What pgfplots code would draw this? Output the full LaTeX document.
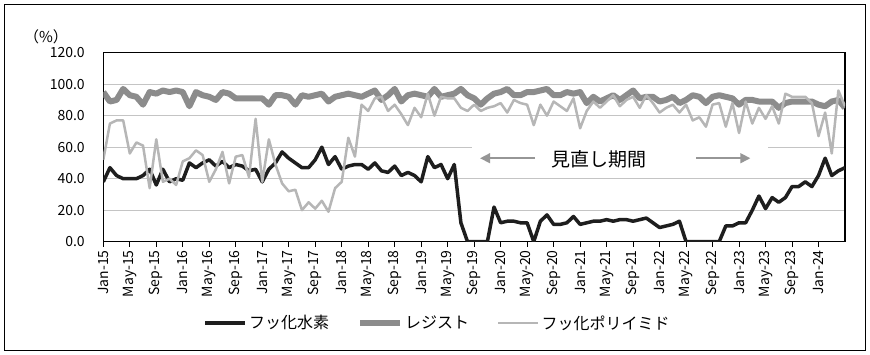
\documentclass[border=0pt]{standalone}
\usepackage{pgfplots}
\pgfplotsset{compat=1.18}
\usepackage{pgfplotstable}
\usepackage{fontspec}
\setmainfont{Noto Sans CJK JP}
\usetikzlibrary{arrows.meta}
\definecolor{cblack}{RGB}{30,30,30}
\definecolor{cgray}{RGB}{140,140,140}
\definecolor{clight}{RGB}{182,182,182}
\definecolor{cgrid}{RGB}{196,196,196}
\definecolor{carrow}{RGB}{150,150,150}

\pgfplotstableread{
i hf resist pi
0 38 95 52
1 47 89 75
2 42 90 77
3 40 97 77
4 40 93 56
5 40 92 63
6 42 87 61
7 46 95 34
8 36 94 65
9 46 96 38
10 38 95 40
11 40 96 36
12 39 95 51
13 50 86 53
14 47 95 58
15 50 93 55
16 52 92 38
17 48 90 46
18 51 95 57
19 47 94 37
20 49 91 54
21 48 91 55
22 45 91 41
23 46 91 78
24 38 91 38
25 46 87 65
26 50 93 49
27 57 93 37
28 53 92 32
29 50 87 33
30 47 93 20
31 47 92 25
32 52 93 21
33 60 94 26
34 49 89 19
35 54 92 34
36 46 93 38
37 48 94 66
38 49 93 54
39 49 92 87
40 46 94 83
41 50 96 91
42 45 90 92
43 44 93 83
44 48 97 87
45 42 89 81
46 44 93 74
47 42 94 85
48 38 93 79
49 54 92 94
50 47 97 80
51 49 92 92
52 40 93 91
53 49 94 91
54 12 97 85
55 0 93 83
56 0 91 87
57 0 87 83
58 0 91 85
59 22 94 86
60 12 95 88
61 13 97 82
62 13 93 90
63 12 93 88
64 12 95 87
65 0 95 74
66 13 96 87
67 17 97 80
68 11 93 89
69 11 93 86
70 12 95 83
71 16 94 91
72 11 95 72
73 12 88 83
74 13 92 89
75 13 89 85
76 14 91 89
77 13 93 93
78 14 90 86
79 14 93 90
80 13 96 92
81 14 91 85
82 15 92 93
83 12 92 88
84 9 89 82
85 10 90 85
86 11 92 87
87 13 88 82
88 0 90 87
89 0 93 77
90 0 92 79
91 0 88 73
92 0 92 87
93 0 93 88
94 10 92 73
95 10 91 88
96 12 87 69
97 12 90 89
98 20 90 75
99 29 89 85
100 21 89 78
101 28 89 86
102 25 85 75
103 28 88 94
104 35 89 92
105 35 89 92
106 38 89 92
107 35 89 88
108 42 87 67
109 53 86 82
110 42 89 56
111 45 90 96
112 47 85 86
}\datatable

\begin{document}
\begin{tikzpicture}[x=1pt,y=1pt]
\begin{axis}[
  at={(103.3pt,113.3pt)}, anchor=south west,
  scale only axis, width=741.7pt, height=189pt,
  xmin=0, xmax=112, ymin=0, ymax=120,
  ytick={0,20,40,60,80,100,120},
  /pgf/number format/assume math mode=true,
  yticklabel style={/pgf/number format/fixed, /pgf/number format/fixed zerofill, /pgf/number format/precision=1, xshift=-10pt},
  xtick={0,4,...,108},
  xticklabels={Jan-15,May-15,Sep-15,Jan-16,May-16,Sep-16,Jan-17,May-17,Sep-17,Jan-18,May-18,Sep-18,Jan-19,May-19,Sep-19,Jan-20,May-20,Sep-20,Jan-21,May-21,Sep-21,Jan-22,May-22,Sep-22,Jan-23,May-23,Sep-23,Jan-24},
  xticklabel style={rotate=90, anchor=east},
  xtick pos=left, tick align=outside, major tick length=5pt,
  ytick style={draw=none},
  xtick style={black, line width=1pt},
  ymajorgrids, grid style={cgrid, line width=1.2pt},
  axis line style={black, line width=1.5pt},
  tick label style={font=\fontsize{14}{16}\selectfont},
  legend columns=3,
  legend style={at={(0.4506,-0.43)}, anchor=center, draw=none, fill=none,
    font=\fontsize{16}{18}\selectfont,
    /tikz/every even column/.append style={column sep=26pt}},
  legend image code/.code={\draw[#1] (0pt,0pt) -- (40pt,0pt);},
]
\addplot[cblack, line width=3.5pt, line join=round] table[x=i, y=hf] {\datatable};
\addlegendentry{フッ化水素}
\addplot[cgray, line width=6pt, line join=round] table[x=i, y=resist] {\datatable};
\addlegendentry{レジスト}
\addplot[clight, line width=2.5pt, line join=round] table[x=i, y=pi] {\datatable};
\addlegendentry{フッ化ポリイミド}
\fill[white] (axis cs:55.7,44.8) rectangle (axis cs:100.4,67.5);
\node[font=\fontsize{19}{22}\selectfont] at (axis cs:74.9,52.5) {見直し期間};
\draw[carrow, line width=1.5pt, -{Triangle[length=10pt,width=10pt]}] (axis cs:65.2,53) -- (axis cs:56.9,53);
\draw[carrow, line width=1.5pt, -{Triangle[length=10pt,width=10pt]}] (axis cs:89.5,53) -- (axis cs:97.7,53);
\end{axis}
\node[font=\fontsize{15}{17}\selectfont] at (46pt,318.3pt) {（\%）};
\draw[line width=1.5pt] (4.7pt,4.7pt) rectangle (865.3pt,350.3pt);
\pgfresetboundingbox
\useasboundingbox (0,0) rectangle (870pt,355pt);
\end{tikzpicture}
\end{document}
